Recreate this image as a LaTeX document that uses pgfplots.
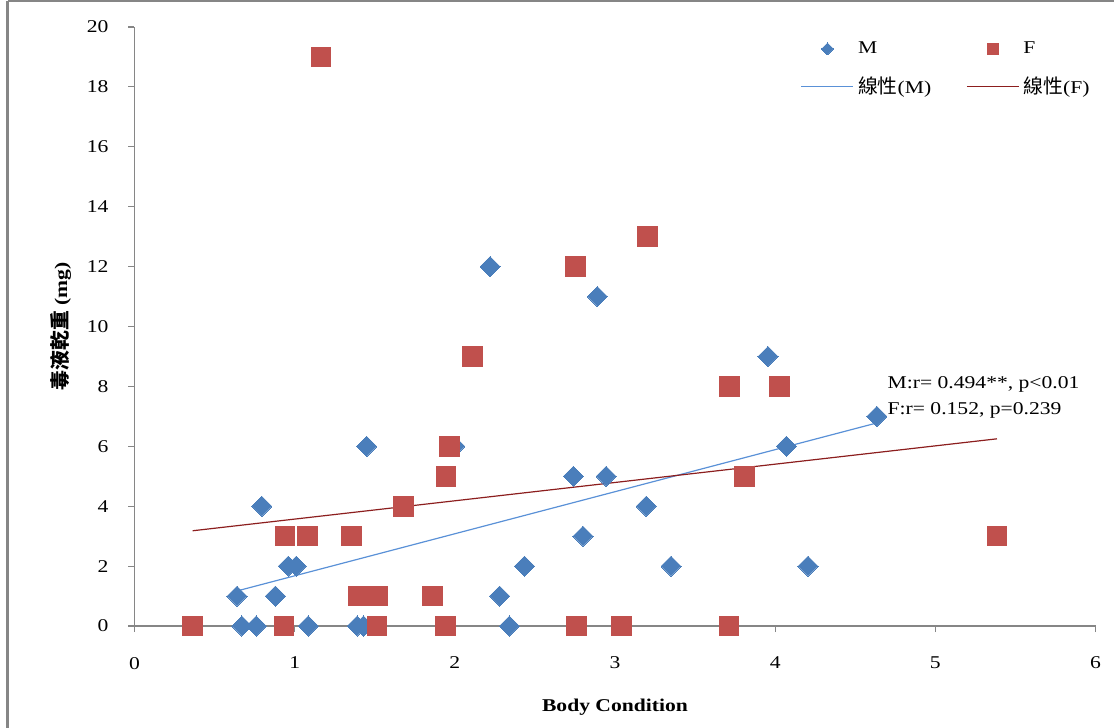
\documentclass[border=0pt]{standalone}
\usepackage{fontspec}
\setmainfont{Liberation Serif}[FakeStretch=1.2]
\newfontfamily\cjk{Noto Sans CJK TC}[Scale=1.1]
\usepackage{pgfplots}
\pgfplotsset{compat=1.18}

\definecolor{mblue}{RGB}{74,126,187}
\definecolor{fred}{RGB}{192,80,77}
\definecolor{mline}{RGB}{90,145,215}
\definecolor{fline}{RGB}{140,30,30}
\definecolor{axgray}{RGB}{134,134,134}

% legend image with a smaller mark than in the plot
\pgfplotsset{
  smallmarklegend/.style={
    legend image code/.code={\draw[mark repeat=2,mark phase=2,##1,
      /tikz/every mark/.append style={scale=#1}]
      plot coordinates {(0pt,0pt) (13pt,0pt) (26pt,0pt)};}},
}

\begin{document}
\begin{tikzpicture}
% page frame: 1 px = 0.5 pt, plot area lower-left at the origin
\path[use as bounding box] (-67.25pt,-51pt) rectangle (489.75pt,313pt);
\draw[axgray, line width=1.5pt] (-63.25pt,-51pt) -- (-63.25pt,312.6pt);
\draw[axgray, line width=0.8pt] (-63.25pt,312.6pt) -- (489.75pt,312.6pt);

\begin{axis}[
  at={(0pt,0pt)}, anchor=south west,
  scale only axis,
  width=480.5pt, height=299.5pt,
  xmin=0, xmax=6, ymin=0, ymax=20,
  xtick={0,1,...,6},
  ytick={0,2,...,20},
  axis x line*=bottom,
  axis y line*=left,
  axis line style={axgray, line width=0.6pt},
  tick style={axgray, line width=0.6pt},
  tick align=outside,
  major tick length=3pt,
  /pgf/number format/assume math mode=true,
  ticklabel style={font=\fontsize{9}{10}\selectfont},
  yticklabel style={xshift=-6.5pt},
  xticklabel style={yshift=-9pt},
  xlabel={\textbf{Body Condition}},
  ylabel={{\cjk\bfseries 毒液乾重}\textbf{ (mg)}},
  xlabel style={at={(axis description cs:0.5,-0.136)}, anchor=center, font=\fontsize{9}{11}\selectfont},
  ylabel style={at={(axis description cs:-0.077,0.5)}, anchor=center, font=\fontsize{9}{11}\selectfont},
  legend columns=2,
  legend cell align=left,
  legend style={draw=none, fill=none, inner sep=0pt,
    at={(axis description cs:0.693,0.983)}, anchor=north west,
    font=\fontsize{9}{10}\selectfont,
    row sep=6pt,
    /tikz/every even column/.append style={column sep=15.5pt}},
  legend image code/.code={\draw[mark repeat=2,mark phase=2,#1] plot coordinates {(0pt,0pt) (13pt,0pt) (26pt,0pt)};},
  clip=false,
]

% male
\addplot[only marks, mark=square*, mark size=3.55pt,
  mark options={rotate=45, fill=mblue, draw=mblue, line width=0pt},
  smallmarklegend=0.6]
  coordinates {
  (0.64,1) (0.67,0) (0.76,0) (0.795,4) (0.88,1) (0.96,2) (1.01,2)
  (1.085,0) (1.39,0) (1.43,0) (1.45,6) (2.00,6) (2.22,12) (2.28,1)
  (2.34,0) (2.435,2) (2.74,5) (2.80,3) (2.89,11) (2.945,5) (3.195,4)
  (3.35,2) (3.955,9) (4.07,6) (4.205,2) (4.635,7)
  };
\addlegendentry{M}

% female
\addplot[only marks, mark=square*, mark size=4.9pt,
  mark options={fill=fred, draw=fred, line width=0pt},
  smallmarklegend=0.55]
  coordinates {
  (0.363,0) (0.934,0) (0.94,3) (1.08,3) (1.165,19) (1.355,3) (1.395,1)
  (1.513,0) (1.517,1) (1.68,4) (1.86,1) (1.94,0) (1.945,5) (1.966,6)
  (2.11,9) (2.753,12) (2.758,0) (3.04,0) (3.203,13) (3.713,0) (3.715,8)
  (3.807,5) (4.026,8) (5.385,3)
  };
\addlegendentry{F}

% linear fits
\addplot[mline, line width=0.6pt] coordinates {(0.64,1.17) (4.635,6.78)};
\addlegendentry{{\cjk 線性}(M)}
\addplot[fline, line width=0.6pt] coordinates {(0.363,3.18) (5.385,6.25)};
\addlegendentry{{\cjk 線性}(F)}

\node[anchor=west, font=\fontsize{9}{10}\selectfont, inner sep=0pt] at (axis cs:4.70,8.05) {M:r= 0.494**, p<0.01};
\node[anchor=west, font=\fontsize{9}{10}\selectfont, inner sep=0pt] at (axis cs:4.70,7.2) {F:r= 0.152, p=0.239};
\end{axis}
\end{tikzpicture}
\end{document}
